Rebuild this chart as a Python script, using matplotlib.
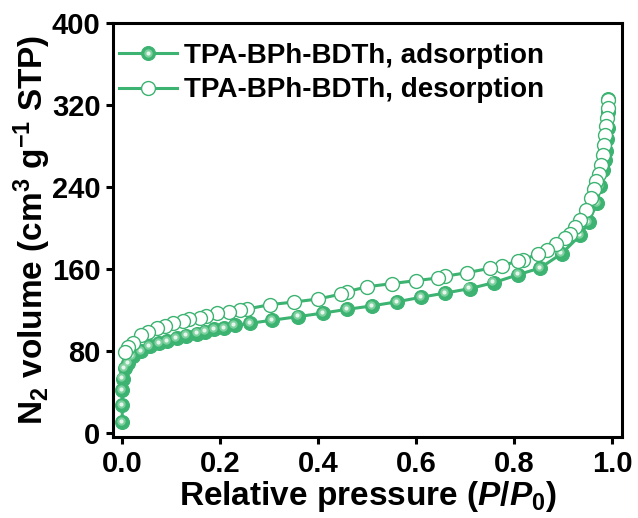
import matplotlib
matplotlib.use("Agg")
import matplotlib.pyplot as plt
from matplotlib.transforms import offset_copy
from matplotlib.legend_handler import HandlerTuple

plt.rcParams['font.family'] = ['Liberation Sans', 'DejaVu Sans']
plt.rcParams['font.weight'] = 'bold'
plt.rcParams['axes.labelweight'] = 'bold'
plt.rcParams['mathtext.fontset'] = 'custom'
plt.rcParams['mathtext.rm'] = 'Liberation Sans:bold'
plt.rcParams['mathtext.bf'] = 'Liberation Sans:bold'
plt.rcParams['mathtext.it'] = 'Liberation Sans:italic:bold'

# adsorption branch (P/P0, cm3/g STP)
ads_p = [0.001, 0.001, 0.001, 0.002, 0.006, 0.013, 0.022, 0.040, 0.057, 0.076,
         0.092, 0.112, 0.131, 0.154, 0.170, 0.189, 0.208, 0.230, 0.261, 0.306,
         0.359, 0.410, 0.460, 0.510, 0.561, 0.610, 0.660, 0.709, 0.758, 0.808,
         0.853, 0.897, 0.935, 0.952, 0.969, 0.976, 0.981, 0.985, 0.988, 0.990,
         0.991, 0.992, 0.992]
ads_v = [10.5, 27, 42, 53, 63, 68, 75, 80, 85, 87.5,
         90, 92.5, 95, 97, 99, 101, 102, 105, 107, 110,
         113.5, 117, 120.7, 124, 128, 132.4, 136.6, 140.8, 146.6, 154.4,
         161, 175, 193, 206, 224, 241, 256, 266, 275, 287,
         297, 313, 326]

# desorption branch
des_p = [0.992, 0.992, 0.989, 0.988, 0.986, 0.984, 0.981, 0.977, 0.972, 0.966,
         0.962, 0.957, 0.947, 0.935, 0.924, 0.913, 0.904, 0.886, 0.867, 0.848,
         0.818, 0.807, 0.775, 0.751, 0.704, 0.659, 0.645, 0.599, 0.550, 0.501,
         0.459, 0.448, 0.400, 0.351, 0.302, 0.256, 0.242, 0.218, 0.194, 0.171,
         0.159, 0.137, 0.125, 0.105, 0.088, 0.071, 0.054, 0.040, 0.022, 0.013,
         0.006]
des_v = [325, 317, 307, 299, 291, 280.6, 271.5, 261.7, 252.6, 245.5,
         237.8, 229, 217.6, 207.8, 201.3, 194.1, 190, 184.4, 178.5, 174.6,
         168.8, 167.8, 162.9, 160.7, 156.4, 152.9, 151.2, 148.6, 145.7, 142.7,
         137.9, 135.6, 130.7, 127.8, 125.2, 121, 120, 118, 116.8, 114.1,
         112.5, 111.2, 109.6, 107.6, 104.4, 102.1, 98.8, 95.6, 88.1, 84.2,
         79.3]

green = '#3cb371'

fig = plt.figure(figsize=(6.38, 5.18), dpi=100)
ax = fig.add_axes([0.177, 0.156, 0.798, 0.800])

l1, = ax.plot(ads_p, ads_v, '-o', color=green, lw=2.2, ms=10,
              mfc=green, mec=green, mew=0.8, zorder=3)
# shading on the filled spheres
hl = offset_copy(ax.transData, fig=fig, x=-0.9, y=0.9, units='points')
h1, = ax.plot(ads_p, ads_v, 'o', ms=6, color='#8fd7aa', alpha=0.8,
              mec='none', transform=hl, zorder=4)
h2, = ax.plot(ads_p, ads_v, 'o', ms=3, color='#f2fbf5', alpha=0.9,
              mec='none', transform=hl, zorder=4)
l2, = ax.plot(des_p, des_v, '-o', color=green, lw=2.2, ms=10,
              mfc='white', mec=green, mew=1.0, zorder=5)

ax.set_xlim(-0.018, 1.02)
ax.set_ylim(-4, 400)
ax.set_xticks([0.0, 0.2, 0.4, 0.6, 0.8, 1.0])
ax.set_yticks([0, 80, 160, 240, 320, 400])
ax.tick_params(direction='out', length=5, width=2.2, labelsize=21, pad=4)
for s in ax.spines.values():
    s.set_linewidth(2.2)

ax.set_xlabel('Relative pressure ($P$/$P_0$)', fontsize=24, labelpad=1)
ax.set_ylabel('N$_2$ volume (cm$^3$ g$^{-1}$ STP)', fontsize=24, labelpad=-1)

ax.legend([(l1, h1, h2), l2],
          ['TPA-BPh-BDTh, adsorption', 'TPA-BPh-BDTh, desorption'],
          handler_map={tuple: HandlerTuple(ndivide=1)},
          loc='upper left', bbox_to_anchor=(-0.018, 0.988),
          frameon=False, fontsize=20,
          handlelength=2.1, handletextpad=0.25, labelspacing=0.3,
          borderaxespad=0.15)

fig.savefig('out.png', dpi=100)
